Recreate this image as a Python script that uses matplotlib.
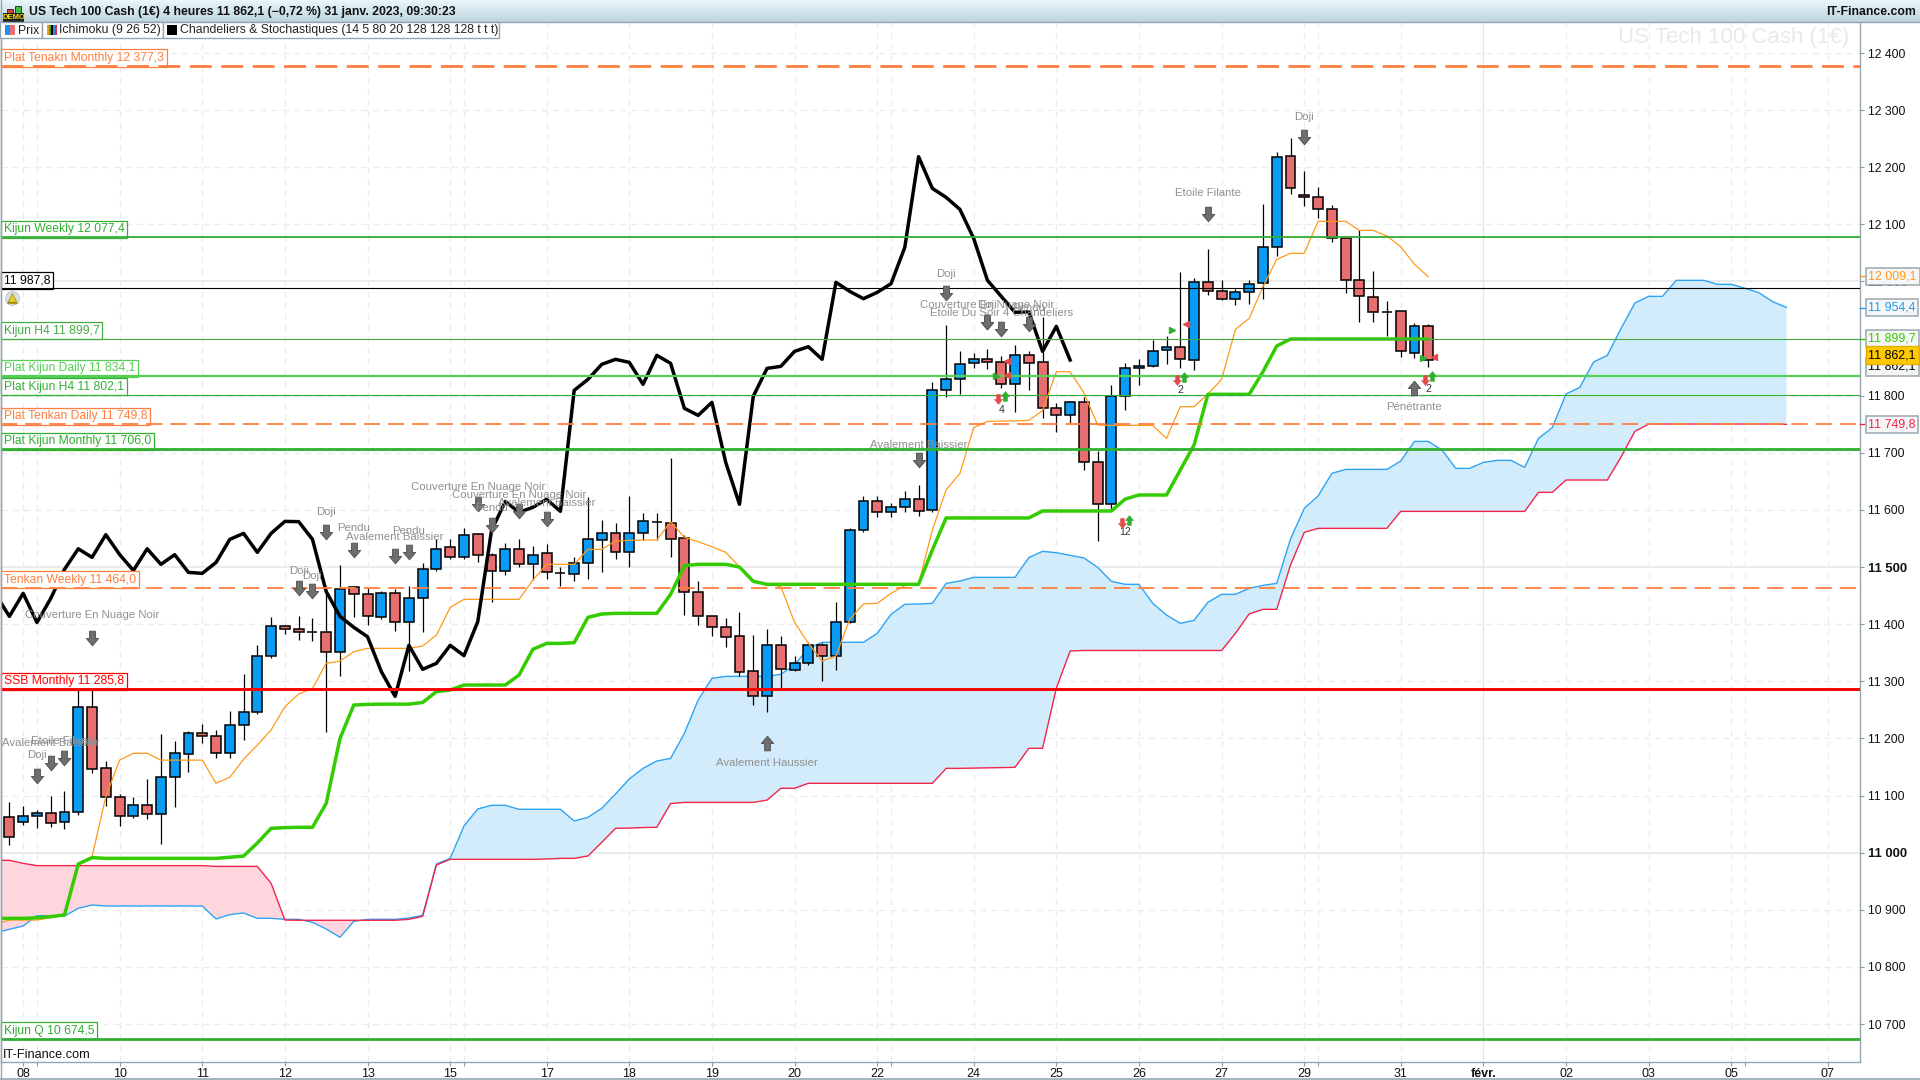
import matplotlib
matplotlib.use("Agg")
import matplotlib.pyplot as plt
import numpy as np
from matplotlib.path import Path
from matplotlib.patches import Rectangle
from matplotlib.transforms import blended_transform_factory

plt.rcParams['font.family'] = ['Liberation Sans', 'DejaVu Sans']

opens = [11061.9, 11053.1, 11064.8, 11068.9, 11053.1, 11070.6, 11255.6, 11147.7, 11096.9, 11064.8,
         11082.9, 11068.3, 11131.9, 11172.2, 11209, 11203.7, 11173.9, 11223, 11246.8, 11343.7,
         11396, 11391, 11386, 11385.7, 11351.8, 11464.5, 11452.2, 11413, 11454, 11403,
         11445, 11497, 11534.5, 11517, 11557.3, 11521.7, 11492.5, 11532, 11504.8, 11524,
         11489, 11487, 11508, 11546.8, 11559, 11525.8, 11559, 11579.5, 11576.6, 11550.3,
         11457, 11413.8, 11394.5, 11378.8, 11317.5, 11273.7, 11363, 11320.4, 11331.5, 11363,
         11344.9, 11404.4, 11564.3, 11615, 11595.9, 11604.6, 11618.6, 11599.4, 11809.4, 11828.6,
         11856.7, 11863.7, 11858.4, 11819.9, 11870.7, 11858.4, 11777.9, 11765.6, 11788.4, 11683.4,
         11609.9, 11798.9, 11847.9, 11851.4, 11879.4, 11885.8, 11861.9, 11999.6, 11982.7, 11969.9,
         11981, 11996.7, 12059.7, 12219.1, 12150.8, 12147.3, 12126.3, 12075.5, 12002, 11972.2,
         11947, 11947.7, 11875.3, 11921.4]
closes = [11028, 11063.6, 11068.9, 11051.4, 11070.6, 11255.6, 11146, 11096.9, 11064.8, 11082.9,
          11068.3, 11131.9, 11173.9, 11209, 11203.7, 11173.9, 11223, 11245.6, 11343.7, 11396,
          11391, 11385.7, 11386, 11350.7, 11462, 11452.2, 11413.7, 11454, 11403, 11445,
          11496, 11532, 11517, 11556.7, 11522, 11494, 11532, 11504.8, 11521.7, 11490.7,
          11489, 11508, 11548.5, 11559, 11525.8, 11559, 11580, 11579.5, 11548.6, 11457,
          11413.8, 11394.5, 11378, 11317, 11273.7, 11363, 11321, 11331.5, 11363, 11344.9,
          11404.4, 11564.3, 11615, 11595.9, 11604.6, 11618.6, 11597.6, 11809.4, 11828.6, 11854.9,
          11863.7, 11858.4, 11819.9, 11870.7, 11856.7, 11777.9, 11765.6, 11788.4, 11683.4, 11609.9,
          11798.9, 11847.9, 11851.4, 11877.7, 11885.8, 11863.7, 11998.5, 11982.7, 11969.9, 11981,
          11996.1, 12059.7, 12218.5, 12163, 12147.3, 12126.3, 12075.5, 12002, 11974, 11946,
          11947, 11877.7, 11921.4, 11862.5]
highs = [11088.7, 11081.7, 11074.7, 11099.2, 11108, 11287, 11287, 11160.5, 11102.7, 11096.9,
         11129, 11207.8, 11195.5, 11213, 11225.3, 11214.8, 11248, 11312.8, 11363.5, 11412.5,
         11398.5, 11414.3, 11411.4, 11467, 11503.6, 11466.8, 11462.7, 11458, 11461, 11467,
         11508, 11550, 11550, 11568.4, 11559, 11524, 11541.5, 11549, 11537, 11540.4,
         11500.7, 11517, 11623, 11582.4, 11576.5, 11625, 11594, 11594, 11690.4, 11556,
         11475.6, 11415, 11410, 11420.8, 11381, 11391.6, 11379.3, 11344.3, 11369.4, 11366.5,
         11438.3, 11567.9, 11624.5, 11624.5, 11611.6, 11633.2, 11643.7, 11823.4, 11923.8, 11878.2,
         11875.3, 11882.3, 11869.5, 11888.7, 11878.2, 11938.4, 11787.8, 11790.7, 11798.3, 11703.7,
         11818.7, 11856.6, 11864, 11897.5, 11904.5, 12016.6, 12005.5, 12056.8, 12002.6, 11987.4,
         12002.6, 12135.6, 12227.2, 12251.2, 12193.4, 12165.4, 12133.9, 12077, 12090, 12018.3,
         11965.8, 11948, 11926.7, 11925]
lows = [11013.5, 11048.5, 11043.8, 11045.5, 11041.5, 11066, 11140, 11081.7, 11046.7, 11061.3,
        11059.6, 11015.8, 11080.6, 11141.8, 11192.6, 11166.4, 11166.4, 11198, 11243, 11341,
        11383, 11373, 11370.5, 11211.9, 11309, 11413, 11398.5, 11409, 11388.6, 11318.6,
        11387, 11493.7, 11513.5, 11513.5, 11509.4, 11439.4, 11485.5, 11499.5, 11477.3, 11479.7,
        11466.8, 11476, 11479.7, 11492, 11514.1, 11500.7, 11547, 11547, 11518, 11416,
        11398.6, 11380, 11360.7, 11309.3, 11258.5, 11247, 11287.7, 11318.6, 11328.6, 11301,
        11319.8, 11401.5, 11562, 11588, 11588, 11597, 11590, 11597, 11798.3, 11803,
        11849, 11847.3, 11814, 11772, 11810, 11760.4, 11737, 11751.6, 11670, 11545.7,
        11600, 11775, 11818.7, 11851, 11855.5, 11847.9, 11845, 11976.3, 11968, 11958.8,
        11960.5, 11968.7, 12044.6, 12153, 12132.7, 12111.7, 12069.7, 11980.4, 11929.6, 11929.6,
        11904.5, 11868.3, 11866.6, 11850.8]

# the next four start one bar before the first candle (clipped by the left edge)
chikou = [11452.2, 11413.7, 11454, 11403, 11445, 11496, 11532, 11517, 11556.7, 11522,
          11494, 11532, 11504.8, 11521.7, 11490.7, 11489, 11508, 11548.5, 11559, 11525.8,
          11559, 11580, 11579.5, 11548.6, 11457, 11413.8, 11394.5, 11378, 11317, 11273.7,
          11363, 11321, 11331.5, 11363, 11344.9, 11404.4, 11564.3, 11615, 11595.9, 11604.6,
          11618.6, 11597.6, 11809.4, 11828.6, 11854.9, 11863.7, 11858.4, 11819.9, 11870.7, 11856.7,
          11777.9, 11765.6, 11788.4, 11683.4, 11609.9, 11798.9, 11847.9, 11851.4, 11877.7, 11885.8,
          11863.7, 11998.5, 11982.7, 11969.9, 11981, 11996.1, 12059.7, 12218.5, 12163, 12147.3,
          12126.3, 12075.5, 12002, 11974, 11946, 11947, 11877.7, 11921.4, 11862.5]
tenkan = [10875, 10882, 10882, 10882, 10886, 10891, 10980, 10993, 11098, 11162,
          11174, 11174, 11162, 11162, 11162, 11162, 11121.4, 11132, 11163.4, 11188.5,
          11214.8, 11255.6, 11277.7, 11287.6, 11331.4, 11335.5, 11351.8, 11357.7, 11357.7, 11357.7,
          11357.7, 11361.8, 11381, 11429.5, 11443.5, 11443.5, 11443.5, 11443.5, 11443.5, 11477.3,
          11504.8, 11504.8, 11504.8, 11531, 11531, 11545.6, 11546.8, 11547.4, 11547.4, 11579.5,
          11552, 11544.5, 11535.7, 11525.8, 11500.7, 11474.5, 11470.4, 11465.7, 11403, 11366.5,
          11335.6, 11344.3, 11408.5, 11435.4, 11436.5, 11454, 11467.5, 11470.4, 11565, 11635,
          11664, 11744, 11755, 11755.7, 11756, 11756.8, 11773.8, 11842, 11842, 11805.3,
          11748.7, 11748, 11748, 11748, 11748, 11725.3, 11780.8, 11780.8, 11803, 11828.6,
          11916, 11935.4, 11990.9, 12038.7, 12049.3, 12049.3, 12105.3, 12105.3, 12105.3, 12089.5,
          12089.5, 12079.6, 12060.9, 12030, 12008.4]
kijun = [10885, 10885, 10885, 10886, 10888, 10891, 10980.2, 10991.3, 10990, 10990,
         10990, 10990, 10990, 10990, 10990, 10990, 10990, 10992, 10994, 11017,
         11042.6, 11043.8, 11044.4, 11044.4, 11086.4, 11200, 11258.5, 11259.6, 11260, 11260,
         11260, 11263, 11282, 11284.7, 11293.5, 11293.5, 11293.5, 11293.5, 11311, 11356,
         11366.4, 11366.4, 11367.6, 11412, 11417.8, 11419, 11419, 11419, 11419, 11452.3,
         11502.5, 11504.8, 11504.8, 11504.8, 11500, 11475, 11469.8, 11469.8, 11469.8, 11469.8,
         11469.8, 11469.8, 11469.8, 11469.8, 11469.8, 11469.8, 11469.8, 11469.8, 11530, 11586,
         11586, 11586, 11586, 11586, 11586, 11586, 11598.2, 11598.2, 11598.2, 11598.2,
         11598.2, 11598.2, 11619, 11626.2, 11626.2, 11626.2, 11670, 11713.7, 11802.4, 11802.4,
         11802.4, 11802.4, 11842, 11887, 11899.3, 11899.3, 11899.3, 11899.3, 11899.3, 11899.3,
         11899.3, 11899.3, 11899.3, 11899.3, 11899.3]
ssa = [10860, 10865.8, 10871.6, 10889.7, 10889.7, 10889, 10902.6, 10908.4, 10906.6, 10906.6,
       10906.6, 10906.6, 10906.6, 10906.6, 10906.6, 10906.6, 10883.9, 10891.5, 10894.4, 10885,
       10885, 10883.3, 10883.3, 10878, 10866.4, 10851.8, 10879.8, 10883.3, 10883.3, 10883.3,
       10885.6, 10890.3, 10980.2, 10990, 11046.7, 11076.5, 11082.9, 11082.9, 11075.9, 11075.9,
       11075.9, 11075.9, 11055.5, 11061.9, 11077.6, 11102.7, 11129, 11147.6, 11160.5, 11165,
       11208.9, 11267.3, 11305.2, 11308.7, 11308.7, 11308.7, 11308.7, 11312.2, 11328.6, 11357.8,
       11368.3, 11368.3, 11368.3, 11368.3, 11384, 11417.3, 11434.8, 11435.4, 11436.5, 11471.5,
       11475.6, 11482, 11482, 11482, 11482, 11516.5, 11527.6, 11525.2, 11520.6, 11516,
       11499.6, 11475, 11469.8, 11469.8, 11436.5, 11416, 11401.5, 11406.8, 11438.3, 11452.3,
       11452.3, 11462.8, 11468, 11471.5, 11549, 11602.8, 11624.4, 11664, 11671, 11671,
       11671, 11671, 11685.7, 11720, 11720, 11704.9, 11672.8, 11672.8, 11683.3, 11686.8,
       11686.8, 11674.6, 11725.4, 11744, 11803, 11814.6, 11859, 11870.7, 11917.9, 11962.3,
       11974, 11974, 12002, 12002, 12002, 11995, 11995, 11988, 11980.4, 11964.6, 11954.7]
ssb = [10986.6, 10986.6, 10981.3, 10977.3, 10977.3, 10977.3, 10977.3, 10977.3, 10977.3, 10977.3,
       10977.3, 10977.3, 10977.3, 10977.3, 10977.3, 10977.3, 10976, 10976, 10976, 10976,
       10946.3, 10882, 10881.6, 10881.6, 10881.6, 10881.6, 10881.6, 10881.6, 10881.6, 10881.6,
       10883.3, 10888.5, 10978.4, 10988.3, 10988.3, 10988.3, 10988.3, 10988.3, 10988.3, 10988.3,
       10989, 10990, 10990, 10994.2, 11018, 11042.6, 11043, 11044, 11044.4, 11086,
       11088, 11088, 11088, 11088, 11088, 11088, 11092, 11112.7, 11112.7, 11121.4,
       11121.4, 11121.4, 11121.4, 11121.4, 11121.4, 11121.4, 11121.4, 11121.4, 11121.4, 11147.6,
       11147.6, 11148, 11148.5, 11149, 11149.4, 11182.7, 11182.7, 11287.7, 11353, 11354,
       11354, 11354, 11354, 11354, 11354, 11354, 11354, 11354, 11354, 11354,
       11384, 11418, 11426, 11426, 11503.6, 11560.8, 11567.8, 11567.8, 11567.8, 11567.8,
       11567.8, 11567.8, 11597.5, 11597.5, 11597.5, 11597.5, 11597.5, 11597.5, 11597.5, 11597.5,
       11597.5, 11597.5, 11630.8, 11630.8, 11652.4, 11652.4, 11652.4, 11652.4, 11693, 11737.6,
       11750.4, 11750.4, 11750.4, 11750.4, 11750.4, 11750.4, 11750.4, 11750.4, 11750.4, 11750.4, 11749.8]

level_labels = ["Plat Tenakn Monthly 12 377,3", "Kijun Weekly 12 077,4", "11 987,8", "Kijun H4 11 899,7",
                "Plat Kijun Daily 11 834,1", "Plat Kijun H4 11 802,1", "Plat Tenkan Daily 11 749,8",
                "Plat Kijun Monthly 11 706,0", "Tenkan Weekly 11 464,0", "SSB Monthly 11 285,8", "Kijun Q 10 674,5"]
level_values = [12377.3, 12077.4, 11987.8, 11899.7, 11834.1, 11802.1, 11749.8, 11706.0, 11464.0, 11285.8, 10674.5]
level_colors = ["#ff7f3f", "#33ad33", "#000000", "#44aa44", "#55d055", "#33b033", "#ff7f3f", "#2fb02f", "#ff7f3f", "#ff0000", "#33ad33"]
level_widths = [2.0, 1.3, 0.8, 0.8, 1.6, 0.8, 1.3, 2.0, 1.3, 2.1, 2.0]
level_dashed = [True, False, False, False, False, False, True, False, True, False, False]

y_ticks = [10700, 10800, 10900, 11000, 11100, 11200, 11300, 11400, 11500, 11600, 11700, 11800, 11900, 12000, 12100, 12200, 12300, 12400]
y_bold = [11000, 11500, 12000]
x_tick_pos = [1, 8, 14, 20, 26, 32, 39, 45, 51, 57, 63, 70, 76, 82, 88, 94, 101, 107, 113, 119, 125, 132]
x_tick_labels = ["08", "10", "11", "12", "13", "15", "17", "18", "19", "20", "22", "24", "25", "26", "27", "29", "31",
                 "févr.", "02", "03", "05", "07"]
x_minor_pos = [2, 33, 64, 95, 126]

# pattern name, text bar, text price, arrow bar, arrow price, arrow direction
patterns = [
    ("Avalement Baissier", 3, 11192.6, 3, 11156.4, "down"),
    ("Etoile Filante", 4, 11196, 4, 11165, "down"),
    ("Doji", 2, 11171.6, 2, 11134, "down"),
    ("Couverture En Nuage Noir", 6, 11416, 6, 11376, "down"),
    ("Doji", 21, 11493.7, 21, 11464, "down"),
    ("Doji", 22, 11485, 22, 11458.6, "down"),
    ("Doji", 23, 11595.8, 23, 11562, "down"),
    ("Pendu", 25, 11567.8, 25, 11530, "down"),
    ("Avalement Baissier", 28, 11552.6, 28, 11519, "down"),
    ("Pendu", 29, 11562.5, 29, 11527, "down"),
    ("Couverture En Nuage Noir", 34, 11640, 34, 11610, "down"),
    ("Couverture En Nuage Noir", 37, 11626, 37, 11598, "down"),
    ("Pendu", 35, 11603, 35, 11573.6, "down"),
    ("Avalement Baissier", 39, 11611.5, 39, 11584, "down"),
    ("Avalement Haussier", 55, 11156.4, 55, 11191.4, "up"),
    ("Avalement Baissier", 66, 11713.7, 66, 11687.5, "down"),
    ("Doji", 68, 12012.5, 68, 11980.4, "down"),
    ("Couverture En Nuage Noir", 71, 11958.8, 71, 11929.6, "down"),
    ("Doji", 71, 11958.8, 71, 11929.6, "down"),
    ("Etoile Du Soir 4 Chandeliers", 72, 11944, 72, 11917.4, "down"),
    ("Pendu", 74, 11953, 74, 11925.5, "down"),
    ("Etoile Filante", 87, 12154.3, 87, 12118, "down"),
    ("Doji", 94, 12287.4, 94, 12253.5, "down"),
    ("Pénétrante", 102, 11779.6, 102, 11812.9, "up"),
]
# count label with its small red and green arrows
signal_labels = ["4", "2", "12", "2"]
signal_bars = [72, 85, 81, 103]
signal_prices = [11775, 11810, 11562, 11811.7]
signal_arrow_prices = [11797, 11830, 11580, 11831]

price_boxes = ["12 009,1", "11 954,4", "11 899,7", "11 862,1", "11 749,8"]
price_box_values = [12009.1, 11954.4, 11899.7, 11850.5, 11749.8]
price_box_colors = ["#ff9a1a", "#1e9bf0", "#33cc00", "#000000", "#f0254a"]

BLUE = "#0a9cf5"
RED = "#e76f6f"

down_arrow = Path([(-0.2, 0.5), (0.2, 0.5), (0.2, 0.0), (0.42, 0.0), (0, -0.5), (-0.42, 0.0), (-0.2, 0.0), (-0.2, 0.5)], closed=True)
up_arrow = Path([(-0.2, -0.5), (0.2, -0.5), (0.2, 0.0), (0.42, 0.0), (0, 0.5), (-0.42, 0.0), (-0.2, 0.0), (-0.2, -0.5)], closed=True)


def fmt(v):
    return f"{v:,}".replace(",", " ")


fig = plt.figure(figsize=(19.2, 10.8), dpi=100)
ax = fig.add_axes([1 / 1920, 1 - 1062 / 1080, 1859.4 / 1920, 1040 / 1080])
ax.set_xlim(-0.609, 134.37)
ax.set_ylim(10633.5, 12454.3)

# grid
for v in y_ticks:
    if v in y_bold:
        ax.axhline(v, color="#e6e6e6", lw=1.1, zorder=1)
    else:
        ax.axhline(v, color="#ececec", lw=0.9, ls=(0, (5, 4)), zorder=1)
for p, lab in zip(x_tick_pos + x_minor_pos, x_tick_labels + [""] * 5):
    if lab == "févr.":
        ax.axvline(p, color="#e6e6e6", lw=0.9, zorder=1)
    else:
        ax.axvline(p, color="#ececec", lw=0.9, ls=(0, (5, 4)), zorder=1)

# cloud
cloud_x = np.arange(-1, len(ssa) - 1)
ssa_arr = np.array(ssa)
ssb_arr = np.array(ssb)
ax.fill_between(cloud_x, ssa_arr, ssb_arr, where=ssa_arr >= ssb_arr, interpolate=True, color="#d3ecfc", lw=0, zorder=2)
ax.fill_between(cloud_x, ssa_arr, ssb_arr, where=ssa_arr <= ssb_arr, interpolate=True, color="#ffd5de", lw=0, zorder=2)
ax.plot(cloud_x, ssa, color="#2ea4f5", lw=1.0, zorder=3)
ax.plot(cloud_x, ssb, color="#f0254a", lw=1.0, zorder=3)

# candles
for i in range(len(opens)):
    ax.plot([i, i], [lows[i], highs[i]], color="black", lw=0.9, zorder=4, solid_capstyle="butt")
    if closes[i] > opens[i]:
        col = BLUE
    elif closes[i] < opens[i]:
        col = RED
    else:
        col = "black"
    ax.bar(i, abs(closes[i] - opens[i]), bottom=min(opens[i], closes[i]), width=0.72, color=col, edgecolor="black", lw=1.1, zorder=4.5)

ax.plot(np.arange(-1, len(tenkan) - 1), tenkan, color="#ff9a1a", lw=0.9, zorder=5)
ax.plot(np.arange(-1, len(kijun) - 1), kijun, color="#33cc00", lw=2.5, zorder=6)
ax.plot(np.arange(-1, len(chikou) - 1), chikou, color="black", lw=2.5, zorder=7)

# levels
trans = blended_transform_factory(ax.transAxes, ax.transData)
for lab, val, col, w, dashed in zip(level_labels, level_values, level_colors, level_widths, level_dashed):
    if dashed:
        ls = (0, (7.9, 3.4)) if w > 1.5 else (0, (9, 4.4))
    else:
        ls = "-"
    ax.axhline(val, color=col, lw=w, ls=ls, zorder=8)
    ax.annotate(lab, xy=(0, val), xycoords=trans, xytext=(3, 2), textcoords="offset pixels",
                color=col, fontsize=8.7, va="bottom", ha="left", zorder=7.5,
                bbox=dict(boxstyle="square,pad=0.22", fc="white", ec=col, lw=0.9))

# pattern texts and arrows
for name, tx, ty, bar_x, ay, direction in patterns:
    ax.text(tx, ty, name, color="#909090", fontsize=8.2, ha="center", va="center", zorder=9)
    ax.plot([bar_x], [ay], marker=down_arrow if direction == "down" else up_arrow, ms=10.5,
            mfc="#6e6e6e", mec="#555555", mew=0.7, ls="none", zorder=9)

for lab, b, p, ap in zip(signal_labels, signal_bars, signal_prices, signal_arrow_prices):
    ax.text(b, p, lab, color="#333333", fontsize=7.5, ha="center", va="center", zorder=9)
    ax.plot([b - 0.25], [ap - 3], marker=down_arrow, ms=7, mfc="#e24a4a", mec="#e24a4a", mew=0.4, ls="none", zorder=9)
    ax.plot([b + 0.25], [ap + 3], marker=up_arrow, ms=7, mfc="#2fae2f", mec="#2fae2f", mew=0.4, ls="none", zorder=9)
for b, p, m, c in [(71.6, 11834, ">", "#2fae2f"), (72.4, 11860, "<", "#e24a4a"), (72.4, 11837, "<", "#e24a4a"),
                   (84.4, 11915, ">", "#2fae2f"), (85.4, 11925, "<", "#e24a4a"),
                   (102.6, 11866, ">", "#2fae2f"), (103.4, 11867, "<", "#e24a4a")]:
    ax.plot([b], [p], marker=m, ms=4.5, mfc=c, mec=c, ls="none", zorder=9)

# axes
ax.yaxis.tick_right()
ax.set_yticks(y_ticks)
ax.set_yticklabels([fmt(v) for v in y_ticks])
for lbl, v in zip(ax.get_yticklabels(), y_ticks):
    lbl.set_fontsize(9.4 if v in y_bold else 8.8)
    lbl.set_fontweight("bold" if v in y_bold else "normal")
    lbl.set_color("#111111")
ax.set_xticks(x_tick_pos)
ax.set_xticklabels(x_tick_labels, fontsize=9, color="#111111")
for lbl, t in zip(ax.get_xticklabels(), x_tick_labels):
    if t == "févr.":
        lbl.set_fontweight("bold")
ax.set_xticks(x_minor_pos, minor=True)
ax.tick_params(axis="x", which="both", length=3, width=0.8, color="#8a9aa5", pad=1)
ax.tick_params(axis="y", length=3, width=0.8, color="#8a9aa5", pad=2.5)
for s in ["top", "bottom", "left", "right"]:
    ax.spines[s].set_color("#95a5b0")
    ax.spines[s].set_linewidth(1.0)
ax.spines["top"].set_visible(False)

# right price boxes
right = blended_transform_factory(ax.transAxes, ax.transData)
for lab, val, col in zip(price_boxes, price_box_values, price_box_colors):
    ax.annotate(lab, xy=(1, val), xycoords=right, xytext=(8, 0), textcoords="offset pixels", annotation_clip=False,
                color=col, fontsize=8.9, va="center", ha="left", zorder=12,
                bbox=dict(boxstyle="square,pad=0.22", fc="#f6f6f6", ec="#9aa8b0", lw=1.1))
    if col != "#000000":
        ax.plot([1, 1.003], [val, val], color=col, lw=1, transform=right, clip_on=False, zorder=11)
ax.annotate("11 862,1", xy=(1, 11871), xycoords=right, xytext=(8, 0), textcoords="offset pixels", annotation_clip=False,
            color="black", fontsize=8.9, va="center", ha="left", zorder=13,
            bbox=dict(boxstyle="square,pad=0.22", fc="#ffc800", ec="#e0b000", lw=1.0))

# chrome in pixel coordinates
top = fig.add_axes([0, 0, 1, 1], zorder=20)
top.axis("off")
top.patch.set_alpha(0)
grad_top = np.array([0.91, 0.97, 0.99])
grad_bottom = np.array([0.75, 0.83, 0.87])
grad = np.linspace(0, 1, 22)[:, None, None] * (grad_bottom - grad_top)[None, None, :] + grad_top[None, None, :]
top.imshow(grad, extent=(0, 1920, 22, 0), aspect="auto", zorder=1)
top.set_xlim(0, 1920)
top.set_ylim(1080, 0)
top.plot([0, 1920], [22, 22], color="#95a5b0", lw=1)
top.plot([0, 1920], [1079, 1079], color="#95a5b0", lw=1.2)
top.plot([0.5, 0.5], [0, 1080], color="#95a5b0", lw=1)
top.text(29, 12, "US Tech 100 Cash (1€) 4 heures 11 862,1 (−0,72 %) 31 janv. 2023, 09:30:23", fontsize=8.8, fontweight="bold",
         va="center", ha="left", color="#111111")
top.text(1916, 12, "IT-Finance.com", fontsize=8.8, fontweight="bold", va="center", ha="right", color="#111111")

# demo icon
top.add_patch(Rectangle((3, 13), 21, 9, fc="#222222", ec="none", zorder=3))
top.add_patch(Rectangle((7, 9), 6, 4, fc="#d64545", ec="black", lw=0.5, zorder=3))
top.add_patch(Rectangle((15, 6), 6, 7, fc="#3fbf3f", ec="black", lw=0.5, zorder=3))
top.text(13.5, 17.5, "DEMO", fontsize=5.5, fontweight="bold", color="#ffe000", ha="center", va="center", zorder=4)

# indicator tabs
for x0, x1 in [(0, 41.6), (41.6, 162.5), (162.5, 498.8)]:
    top.add_patch(Rectangle((x0, 22), x1 - x0, 16, fc="white", ec="#95a5b0", lw=1.0, zorder=3))
top.add_patch(Rectangle((5, 25), 5, 10, fc="#1e90f0", ec="none", zorder=4))
top.add_patch(Rectangle((10, 25), 5, 10, fc="#e76f6f", ec="none", zorder=4))
for k, c in enumerate(["#ff9a1a", "#33aa33", "#000000", "#1e90f0", "#f0254a"]):
    top.add_patch(Rectangle((46.5 + 2 * k, 25), 2, 10, fc=c, ec="none", zorder=4))
top.add_patch(Rectangle((167, 25), 10, 10, fc="black", ec="none", zorder=4))
top.text(18, 30.5, "Prix", fontsize=8.8, va="center", color="#222222", zorder=5)
top.text(59, 30.5, "Ichimoku (9 26 52)", fontsize=8.8, va="center", color="#222222", zorder=5)
top.text(180, 30.5, "Chandeliers & Stochastiques (14 5 80 20 128 128 128 t t t)", fontsize=8.8, va="center", color="#222222", zorder=5)

top.text(1849, 37, "US Tech 100 Cash (1€)", fontsize=16, color="#e9e9e9", ha="right", va="center", zorder=2)
top.text(3, 1055, "IT-Finance.com", fontsize=9.2, color="#111111", ha="left", va="center", zorder=5)

# alert bell
top.plot([11.5], [298], marker="o", ms=10, mfc="#d9dfe3", mec="#b8c2c8", mew=0.6, zorder=5)
top.plot([11.5], [297.5], marker="^", ms=7, mfc="#e8cf30", mec="#9c8a10", mew=0.5, zorder=6)
top.plot([8, 15], [302, 302], color="#9c8a10", lw=1, zorder=6)

fig.savefig("out.png", dpi=100)
